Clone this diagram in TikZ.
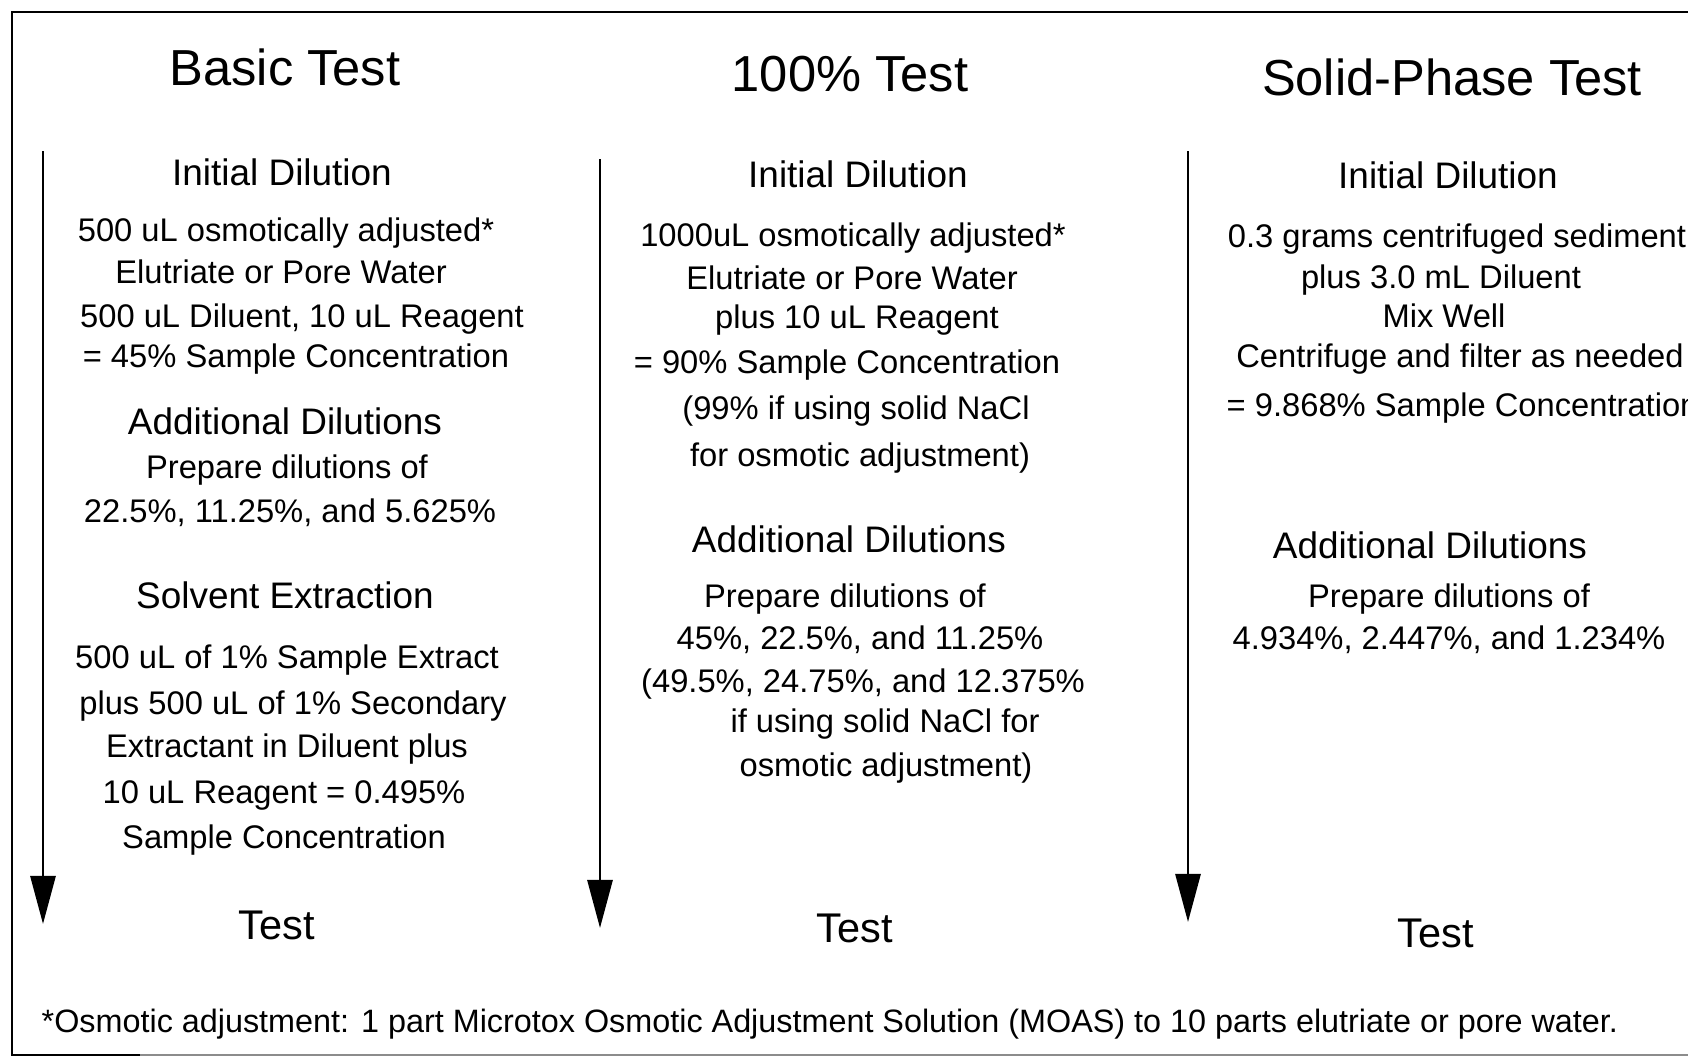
\documentclass[tikz,border=0pt]{standalone}
\usepackage{fontspec}
\setmainfont{Liberation Sans}
\usetikzlibrary{arrows.meta}
\tikzset{
  title/.style={font=\fontsize{14.4}{17}\selectfont, inner sep=0pt, anchor=mid},
  head/.style={font=\fontsize{10.5}{13}\selectfont, inner sep=0pt, anchor=mid},
  txt/.style={font=\fontsize{9.3}{12}\selectfont, inner sep=0pt, anchor=mid},
  testlabel/.style={font=\fontsize{11.8}{14}\selectfont, inner sep=0pt, anchor=mid},
  flow/.style={line width=0.8pt, -{Triangle[width=0.25cm,length=0.48cm]}},
}
\begin{document}
\begin{tikzpicture}[x=0.01cm, y=-0.01cm]
\useasboundingbox (0,0) rectangle (1688,1057);
% frame
\draw[line width=0.8pt] (1688,12) -- (12,12) -- (12,1055) -- (140,1055);
\draw[line width=0.6pt, black!45] (140,1055) -- (1688,1055);

% basic test
\node[title] (bTitle) at (285,76) {Basic Test};
\node[head] (bInit) at (282,176) {Initial Dilution};
\node[txt] (b1) at (286,232) {500 uL osmotically adjusted*};
\node[txt] (b2) at (281,274) {Elutriate or Pore Water};
\node[txt] (b3) at (302,318) {500 uL Diluent, 10 uL Reagent};
\node[txt] (b4) at (296,358) {= 45\% Sample Concentration};
\node[head] (bAdd) at (285,425) {Additional Dilutions};
\node[txt] (b5) at (287,469) {Prepare dilutions of};
\node[txt] (b6) at (290,513) {22.5\%, 11.25\%, and 5.625\%};
\node[head] (bSolv) at (285,599) {Solvent Extraction};
\node[txt] (b7) at (287,659) {500 uL of 1\% Sample Extract};
\node[txt] (b8) at (293,705) {plus 500 uL of 1\% Secondary};
\node[txt] (b9) at (287,748) {Extractant in Diluent plus};
\node[txt] (b10) at (284,794) {10 uL Reagent = 0.495\%};
\node[txt] (b11) at (284,839) {Sample Concentration};
\node[testlabel] (bTest) at (277,930) {Test};

% 100% test
\node[title] (hTitle) at (850,82) {100\% Test};
\node[head] (hInit) at (858,178) {Initial Dilution};
\node[txt] (h1) at (853,237) {1000uL osmotically adjusted*};
\node[txt] (h2) at (852,280) {Elutriate or Pore Water};
\node[txt] (h3) at (857,319) {plus 10 uL Reagent};
\node[txt] (h4) at (847,364) {= 90\% Sample Concentration};
\node[txt] (h5) at (856,410) {(99\% if using solid NaCl};
\node[txt] (h6) at (860,457) {for osmotic adjustment)};
\node[head] (hAdd) at (849,543) {Additional Dilutions};
\node[txt] (h7) at (845,598) {Prepare dilutions of};
\node[txt] (h8) at (860,640) {45\%, 22.5\%, and 11.25\%};
\node[txt] (h9) at (863,683) {(49.5\%, 24.75\%, and 12.375\%};
\node[txt] (h10) at (885,723) {if using solid NaCl for};
\node[txt] (h11) at (886,767) {osmotic adjustment)};
\node[testlabel] (hTest) at (855,933) {Test};

% solid-phase test
\node[title] (sTitle) at (1452,86) {Solid-Phase Test};
\node[head] (sInit) at (1448,179) {Initial Dilution};
\node[txt] (s1) at (1457,238) {0.3 grams centrifuged sediment};
\node[txt] (s2) at (1441,279) {plus 3.0 mL Diluent};
\node[txt] (s3) at (1444,318) {Mix Well};
\node[txt] (s4) at (1460,358) {Centrifuge and filter as needed};
\node[txt, anchor=mid west] (s5) at (1226,407) {= 9.868\% Sample Concentration};
\node[head] (sAdd) at (1430,549) {Additional Dilutions};
\node[txt] (s6) at (1449,598) {Prepare dilutions of};
\node[txt] (s7) at (1449,640) {4.934\%, 2.447\%, and 1.234\%};
\node[testlabel] (sTest) at (1436,938) {Test};

% arrows
\coordinate (a1top) at (43,151);
\coordinate (a1tip) at (43,924);
\coordinate (a2top) at (600,159);
\coordinate (a2tip) at (600,928);
\coordinate (a3top) at (1188,151);
\coordinate (a3tip) at (1188,922);
\draw[flow] (a1top) -- (a1tip);
\draw[flow] (a2top) -- (a2tip);
\draw[flow] (a3top) -- (a3tip);

\node[txt, font=\fontsize{9.2}{12}\selectfont, anchor=mid west] (note) at (41,1023) {*Osmotic adjustment: 1 part Microtox Osmotic Adjustment Solution (MOAS) to 10 parts elutriate or pore water.};
\end{tikzpicture}
\end{document}
